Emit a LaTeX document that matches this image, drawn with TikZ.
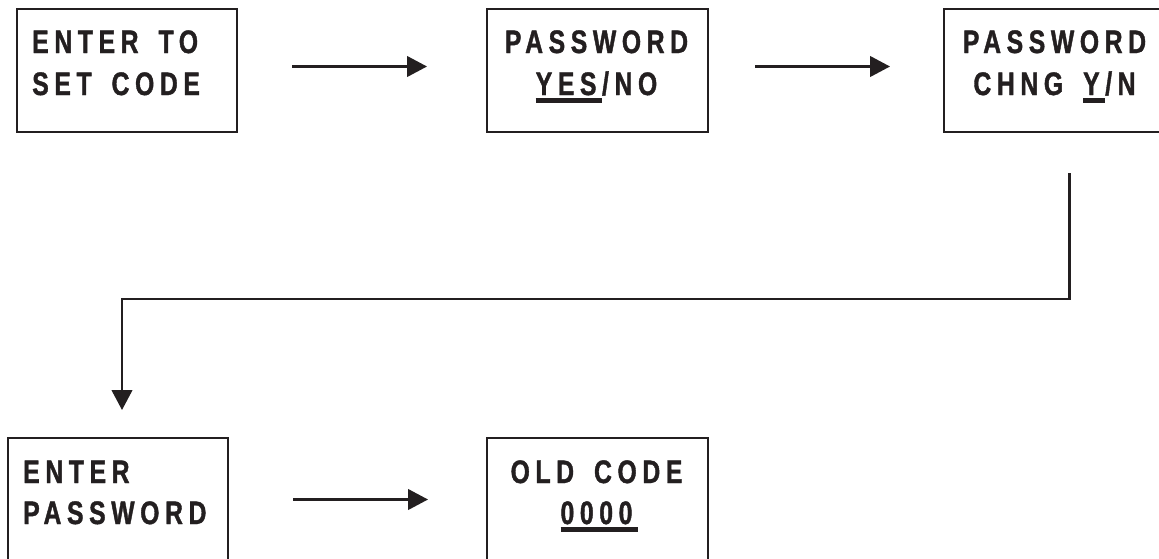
\documentclass[tikz,border=0pt]{standalone}
\usepackage{fontspec}
\usetikzlibrary{arrows.meta,calc}
\newfontfamily\boxfont{Liberation Sans}[FakeStretch=0.76,LetterSpace=17.3,WordSpace=1.6,FakeBold=1.2]
\definecolor{ink}{HTML}{231F20}
\newcommand\ulx[1]{\setbox0\hbox{#1}\rlap{\rule[-5.8pt]{\dimexpr\wd0+4pt\relax}{3.3pt}}\box0}
\begin{document}
\begin{tikzpicture}[x=0.75pt,y=-0.75pt,
  box/.style={draw=ink,line width=1.5pt,minimum height=92.25pt,inner sep=0pt,outer sep=0pt,anchor=north west},
  lbl/.style={text=ink,inner sep=0pt,font=\boxfont\bfseries\fontsize{24.4pt}{30pt}\selectfont},
  arr/.style={draw=ink,line width=1.6pt,-{Triangle[length=15pt,width=15.5pt]}}]
\useasboundingbox (0,0) rectangle (1159,558);
\node[box,minimum width=165pt] (b1) at (17,9) {};
\node[box,minimum width=165.75pt] (b2) at (487,9) {};
\node[box,minimum width=165.75pt] (b3) at (944,9) {};
\node[box,minimum width=165pt] (b4) at (8,438) {};
\node[box,minimum width=165.75pt] (b5) at (487,438) {};
\node[lbl,anchor=base west] (t1a) at ($(b1.north west)+(15,44)$) {ENTER TO};
\node[lbl,anchor=base west] (t1b) at ($(b1.north west)+(15,86)$) {SET CODE};
\node[lbl,anchor=base] (t2a) at ($(b2.north)+(-1,44)$) {PASSWORD};
\node[lbl,anchor=base] (t2b) at ($(b2.north)+(-1,86)$) {\ulx{YES}\kern4.2pt/\kern4.2pt NO};
\node[lbl,anchor=base] (t3a) at ($(b3.north)+(0,44)$) {PASSWORD};
\node[lbl,anchor=base] (t3b) at ($(b3.north)+(0,86)$) {CHNG \ulx{Y}\kern4.2pt/\kern4.2pt N};
\node[lbl,anchor=base west] (t4a) at ($(b4.north west)+(15,45)$) {ENTER};
\node[lbl,anchor=base west] (t4b) at ($(b4.north west)+(15,86)$) {PASSWORD};
\node[lbl,anchor=base] (t5a) at ($(b5.north)+(-1,45)$) {OLD CODE};
\node[lbl,anchor=base] (t5b) at ($(b5.north)+(-1,86)$) {\ulx{0000}};
\draw[arr] ($(b1.east)+(55,-4)$) -- ($(b2.west)+(-60,-4)$);
\draw[arr] ($(b2.east)+(47,-4)$) -- ($(b3.west)+(-54,-4)$);
\draw[arr] ($(b4.east)+(65,0)$) -- ($(b5.west)+(-59,0)$);
\coordinate (c0) at ($(b3.south)+(15,41)$);
\draw[arr] (c0) |- ($(b4.north)+(4,-139)$) -- ($(b4.north)+(4,-28)$);
\end{tikzpicture}
\end{document}
